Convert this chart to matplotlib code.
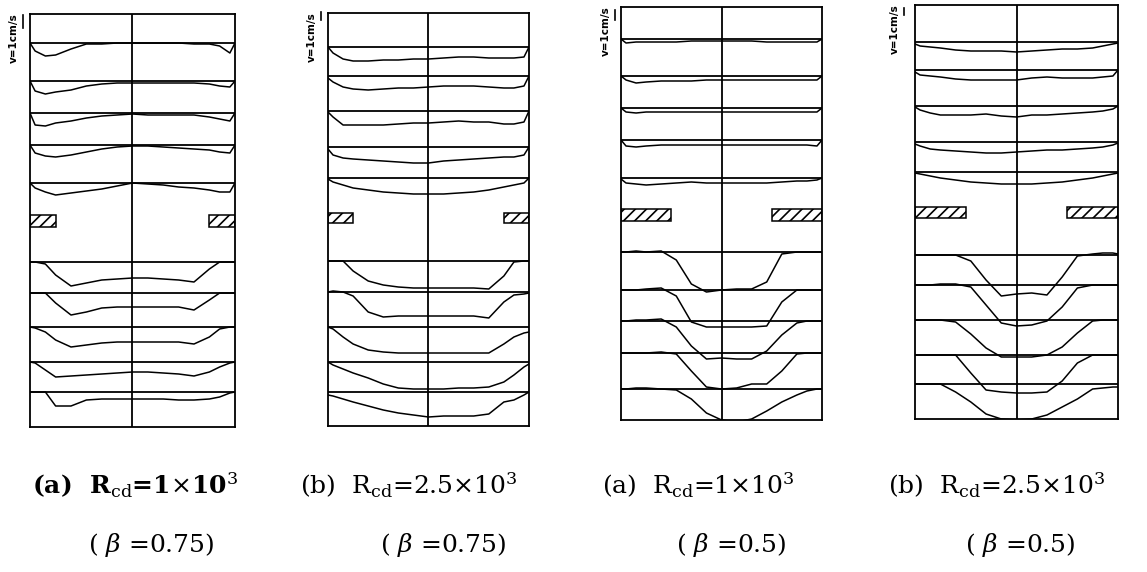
import matplotlib
matplotlib.use("Agg")
import matplotlib.pyplot as plt
from matplotlib.patches import Rectangle
from matplotlib.lines import Line2D

plt.rcParams['font.family'] = ['DejaVu Serif']
plt.rcParams['mathtext.fontset'] = 'dejavuserif'
plt.rcParams['hatch.linewidth'] = 1.2

# --- DADOS ---
# posição lateral (parede esquerda = -1, eixo = 0, parede direita = 1)
XS = [-1, -0.95, -0.85, -0.75, -0.6, -0.45, -0.3, -0.15, 0,
      0.15, 0.3, 0.45, 0.6, 0.75, 0.85, 0.95, 1]

# beta (abertura) de cada caso
BETAS = [0.75, 0.75, 0.5, 0.5]

# estações (distância abaixo do topo da caixa)
ST_UP = [
    [29, 67, 99, 131, 169],
    [34, 63, 98, 134, 165],
    [32, 69, 101, 133, 171],
    [37, 65, 101, 137, 167],
]
ST_DOWN = [
    [248, 279, 313, 348, 378],
    [248, 279, 314, 349, 379],
    [245, 283, 314, 346, 382],
    [250, 280, 315, 350, 379],
]
# obstáculo (topo, base)
OBST = [(201, 213), (200, 210), (202, 214), (202, 213)]
BOX_H = [413, 413, 413, 414]

# déficit de velocidade em cada estação
P1_UP = [
    [0, 8, 13, 12, 6, 1, 1, 0, 0, 0, 0, 0, 1, 1, 3, 10, 0],
    [0, 10, 13, 11, 9, 5, 3, 2, 2, 2, 2, 2, 2, 3, 5, 6, 0],
    [0, 12, 13, 10, 8, 5, 3, 2, 1, 2, 2, 2, 2, 4, 6, 8, 0],
    [0, 8, 11, 12, 10, 7, 4, 2, 1, 1, 2, 3, 4, 5, 7, 8, 0],
    [0, 5, 9, 12, 10, 8, 6, 3, 0, 1, 2, 4, 5, 7, 9, 9, 0],
]
P1_DOWN = [
    [0, 0, 2, 13, 24, 21, 18, 17, 16, 16, 17, 18, 20, 7, 0, 0, 0],
    [0, 0, 0, 10, 22, 19, 15, 14, 14, 14, 14, 14, 17, 7, 0, 0, 0],
    [0, 1, 5, 13, 20, 18, 16, 15, 15, 15, 15, 15, 17, 10, 2, 0, 0],
    [0, 1, 8, 15, 14, 13, 12, 11, 10, 10, 11, 12, 14, 10, 5, 1, 0],
    [0, 0, 0, 14, 14, 8, 7, 7, 7, 7, 7, 8, 8, 7, 5, 1, 0],
]
P2_UP = [
    [0, 6, 12, 14, 14, 13, 13, 12, 12, 11, 10, 10, 11, 11, 11, 10, 0],
    [2, 6, 11, 13, 14, 13, 12, 12, 11, 10, 10, 10, 11, 12, 12, 10, 0],
    [1, 6, 14, 14, 14, 14, 13, 12, 12, 11, 10, 11, 11, 13, 13, 11, 0],
    [2, 8, 11, 12, 13, 14, 15, 16, 16, 14, 13, 12, 11, 10, 10, 8, 0],
    [1, 4, 7, 10, 12, 14, 15, 16, 16, 16, 15, 14, 12, 9, 7, 5, 0],
]
P2_DOWN = [
    [0, 0, 0, 10, 20, 24, 26, 27, 27, 27, 27, 27, 28, 15, 1, 0, 0],
    [0, -1, 0, 4, 20, 25, 24, 24, 24, 24, 24, 24, 26, 10, 3, 2, 1],
    [0, 2, 10, 17, 23, 25, 26, 26, 26, 26, 26, 26, 26, 17, 10, 6, 5],
    [0, 3, 7, 11, 16, 22, 26, 27, 27, 27, 26, 26, 25, 20, 13, 5, 2],
    [3, 4, 7, 10, 14, 18, 21, 23, 25, 24, 24, 24, 22, 10, 8, 3, 0],
]
P3_UP = [
    [0, 4, 3, 3, 3, 3, 2, 2, 2, 2, 2, 3, 3, 3, 3, 3, 0],
    [0, 4, 7, 6, 5, 5, 5, 4, 4, 4, 4, 4, 4, 4, 4, 4, 0],
    [0, 4, 5, 4, 4, 4, 4, 4, 4, 4, 4, 4, 4, 4, 4, 4, 0],
    [0, 6, 7, 6, 5, 5, 5, 5, 5, 5, 5, 5, 5, 5, 5, 6, 0],
    [1, 5, 6, 7, 6, 5, 4, 5, 5, 5, 5, 5, 4, 3, 3, 2, 0],
]
P3_DOWN = [
    [0, 0, -1, 0, -1, 8, 32, 40, 38, 37, 37, 30, 2, 0, 0, 0, 0],
    [0, 0, 0, -1, -2, 6, 32, 37, 37, 37, 37, 36, 12, 0, 0, 0, 0],
    [0, 0, -1, -1, -2, 6, 25, 38, 37, 38, 38, 30, 14, 2, 0, 0, 0],
    [0, 0, 0, 0, -1, 1, 18, 34, 36, 35, 31, 31, 18, 1, 0, 0, 0],
    [0, 0, -1, -1, 0, 1, 10, 24, 31, 33, 30, 22, 13, 6, 2, 0, 0],
]
P4_UP = [
    [2, 4, 5, 6, 8, 9, 9, 9, 10, 9, 8, 7, 7, 6, 4, 2, 1],
    [2, 5, 6, 7, 9, 10, 10, 10, 10, 8, 7, 8, 8, 8, 7, 6, 0],
    [1, 4, 7, 9, 9, 9, 8, 10, 11, 9, 9, 8, 7, 6, 5, 3, 0],
    [2, 4, 7, 8, 9, 10, 11, 11, 10, 9, 8, 8, 7, 6, 5, 3, 1],
    [1, 2, 4, 6, 8, 10, 11, 12, 12, 12, 11, 10, 8, 6, 4, 2, 1],
]
P4_DOWN = [
    [0, 0, 0, 0, 0, 6, 25, 41, 39, 38, 40, 22, 1, -1, -2, -2, -1],
    [0, 0, 0, -1, -1, 2, 20, 38, 41, 40, 36, 22, 3, 0, 0, 0, 0],
    [0, 0, 0, 0, 2, 14, 28, 37, 37, 37, 35, 27, 13, 1, 0, 0, 0],
    [0, 0, 0, 0, 0, 18, 35, 37, 38, 38, 37, 26, 8, 0, 0, 0, 0],
    [0, 0, 0, 0, 8, 18, 30, 35, 36, 35, 31, 23, 15, 5, 4, 3, 3],
]
PROFILES = [(P1_UP, P1_DOWN), (P2_UP, P2_DOWN), (P3_UP, P3_DOWN), (P4_UP, P4_DOWN)]

LABEL_1 = [r"(a)  R$_{\mathrm{cd}}$=1$\times$10$^{3}$",
           r"(b)  R$_{\mathrm{cd}}$=2.5$\times$10$^{3}$",
           r"(a)  R$_{\mathrm{cd}}$=1$\times$10$^{3}$",
           r"(b)  R$_{\mathrm{cd}}$=2.5$\times$10$^{3}$"]
LABEL_2 = [r"( $\beta$ =0.75)", r"( $\beta$ =0.75)",
           r"( $\beta$ =0.5)", r"( $\beta$ =0.5)"]

# --- LAYOUT (pixels) ---
W, H = 1147, 572
BOX_X = [(30, 235), (328, 529), (621, 822), (915, 1118)]
BOX_TOP = [14, 13, 7, 5]
LAB1_X = [32, 300, 602, 888]
LAB2_X = [88, 380, 676, 965]
SCALE_BAR = [(23, 15, 28), (321, 12, 20), (615, 10, 20), (904, 8, 15)]

fig = plt.figure(figsize=(W / 100, H / 100), dpi=100)

for i in range(4):
    x0, x1 = BOX_X[i]
    top = BOX_TOP[i]
    h = BOX_H[i]
    ax = fig.add_axes([x0 / W, 1 - (top + h) / H, (x1 - x0) / W, h / H])
    ax.set_xlim(-1, 1)
    ax.set_ylim(h, 0)
    ax.set_xticks([])
    ax.set_yticks([])
    for s in ax.spines.values():
        s.set_linewidth(1.3)
    ax.axvline(0, color='black', lw=1.3)

    up, down = PROFILES[i]
    for y0, d in zip(ST_UP[i] + ST_DOWN[i], up + down):
        ax.hlines(y0, -1, 1, color='black', lw=1.3)
        ax.plot(XS, [y0 + v for v in d], color='black', lw=1.1)

    # obstáculos
    b = BETAS[i]
    ot, ob = OBST[i]
    for xl in (-1, b):
        ax.add_patch(Rectangle((xl, ot), 1 - b, ob - ot, facecolor='white',
                               edgecolor='black', hatch='///', lw=1.1))

    # escala v=1cm/s
    bx, by0, by1 = SCALE_BAR[i]
    fig.add_artist(Line2D([bx / W, bx / W], [1 - by0 / H, 1 - by1 / H],
                          color='black', lw=1.2))
    fig.text((bx - 9) / W, 1 - (BOX_TOP[i] - 1) / H, "v=1cm/s", rotation=90,
             fontsize=7.5, family='DejaVu Sans', weight='bold',
             ha='center', va='top')

    fig.text(LAB1_X[i] / W, 1 - 485 / H, LABEL_1[i], fontsize=18,
             ha='left', va='center', weight='bold' if i == 0 else 'normal')
    fig.text(LAB2_X[i] / W, 1 - 545 / H, LABEL_2[i], fontsize=18,
             ha='left', va='center')

plt.savefig("out.png", dpi=100)
